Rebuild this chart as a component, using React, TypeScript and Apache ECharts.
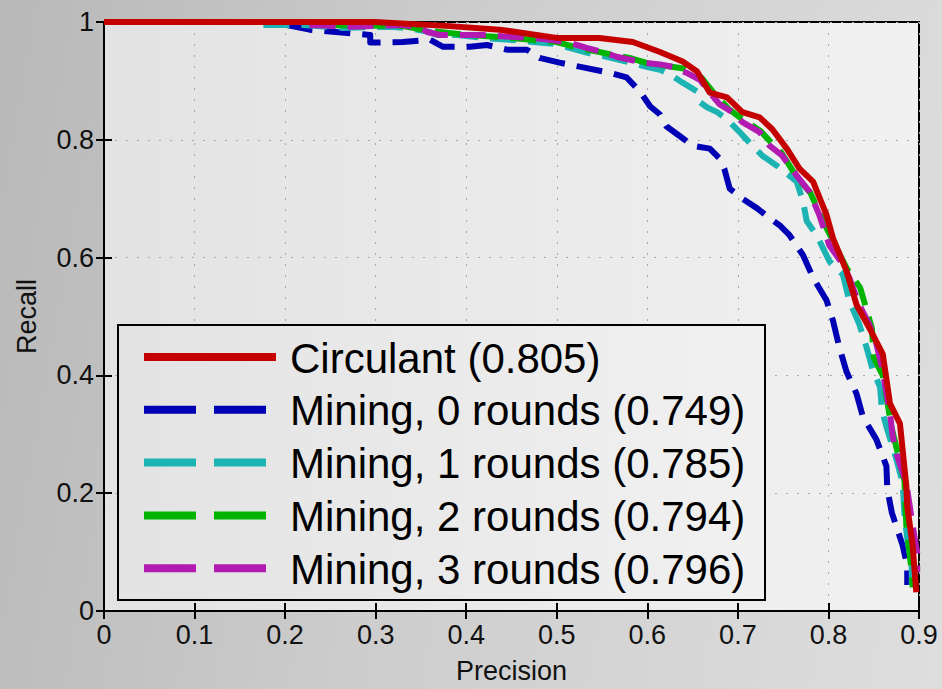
import React, { useEffect, useRef } from "react";
import * as echarts from "echarts";

const xTicks = [0, 0.1, 0.2, 0.3, 0.4, 0.5, 0.6, 0.7, 0.8, 0.9];
const yTicks = [0, 0.2, 0.4, 0.6, 0.8, 1];
const xLabels = ["0", "0.1", "0.2", "0.3", "0.4", "0.5", "0.6", "0.7", "0.8", "0.9"];
const yLabels = ["0", "0.2", "0.4", "0.6", "0.8", "1"];

const seriesNames = [
  "Circulant (0.805)",
  "Mining, 0 rounds (0.749)",
  "Mining, 1 rounds (0.785)",
  "Mining, 2 rounds (0.794)",
  "Mining, 3 rounds (0.796)",
];
const seriesColors = ["#c40000", "#0000b4", "#1cb3b3", "#00b400", "#b21ab2"];

const circulant: number[][] = [
  [0, 1], [0.299, 1], [0.382, 0.993], [0.437, 0.987], [0.5, 0.973], [0.547, 0.973],
  [0.584, 0.966], [0.614, 0.949], [0.639, 0.933], [0.655, 0.916], [0.669, 0.88],
  [0.688, 0.872], [0.705, 0.847], [0.724, 0.838], [0.738, 0.818], [0.754, 0.785],
  [0.768, 0.751], [0.783, 0.729], [0.798, 0.672], [0.805, 0.633], [0.82, 0.577],
  [0.831, 0.52], [0.845, 0.481], [0.86, 0.436], [0.868, 0.352], [0.879, 0.318],
  [0.886, 0.212], [0.887, 0.178], [0.893, 0.111], [0.897, 0.032],
];
const mining0: number[][] = [
  [0.202, 0.995], [0.227, 0.987], [0.272, 0.981], [0.294, 0.978], [0.294, 0.965],
  [0.33, 0.966], [0.36, 0.97], [0.374, 0.958], [0.404, 0.958], [0.423, 0.961],
  [0.445, 0.953], [0.467, 0.953], [0.481, 0.939], [0.503, 0.931], [0.529, 0.923],
  [0.558, 0.914], [0.577, 0.906], [0.592, 0.882], [0.603, 0.857], [0.614, 0.843],
  [0.621, 0.823], [0.636, 0.806], [0.65, 0.79], [0.669, 0.785], [0.68, 0.768],
  [0.685, 0.751], [0.691, 0.717], [0.705, 0.7], [0.721, 0.684], [0.735, 0.667],
  [0.746, 0.655], [0.757, 0.638], [0.772, 0.604], [0.783, 0.566], [0.798, 0.527],
  [0.805, 0.493], [0.812, 0.448], [0.82, 0.406], [0.831, 0.369], [0.838, 0.33],
  [0.853, 0.291], [0.864, 0.246], [0.865, 0.207], [0.87, 0.167], [0.882, 0.111],
  [0.887, 0.077], [0.887, 0.044],
];
const mining1: number[][] = [
  [0.176, 0.995], [0.22, 0.995], [0.264, 0.99], [0.316, 0.992], [0.334, 0.99],
  [0.36, 0.983], [0.368, 0.978], [0.39, 0.978], [0.418, 0.973], [0.448, 0.97],
  [0.474, 0.966], [0.496, 0.963], [0.514, 0.956], [0.533, 0.948], [0.555, 0.941],
  [0.577, 0.933], [0.599, 0.924], [0.614, 0.919], [0.625, 0.911], [0.639, 0.897],
  [0.655, 0.882], [0.658, 0.864], [0.666, 0.855], [0.677, 0.847], [0.688, 0.835],
  [0.702, 0.813], [0.716, 0.79], [0.727, 0.773], [0.743, 0.756], [0.765, 0.729],
  [0.772, 0.695], [0.776, 0.662], [0.787, 0.638], [0.794, 0.616], [0.801, 0.594],
  [0.816, 0.571], [0.823, 0.527], [0.834, 0.487], [0.842, 0.448], [0.849, 0.409],
  [0.857, 0.38], [0.859, 0.342], [0.864, 0.313], [0.875, 0.258], [0.882, 0.217],
  [0.884, 0.162], [0.887, 0.123], [0.892, 0.077], [0.892, 0.044],
];
const mining2: number[][] = [
  [0.24, 0.995], [0.33, 0.993], [0.36, 0.985], [0.4, 0.978], [0.45, 0.973],
  [0.5, 0.966], [0.524, 0.956], [0.56, 0.945], [0.583, 0.938], [0.6, 0.93],
  [0.64, 0.921], [0.66, 0.905], [0.672, 0.882], [0.69, 0.852], [0.705, 0.835],
  [0.725, 0.815], [0.74, 0.79], [0.745, 0.785], [0.765, 0.737], [0.78, 0.71],
  [0.798, 0.65], [0.82, 0.582], [0.835, 0.549], [0.848, 0.48], [0.85, 0.43],
  [0.86, 0.4], [0.87, 0.31], [0.884, 0.22], [0.886, 0.145], [0.892, 0.066],
  [0.893, 0.04],
];
const mining3: number[][] = [
  [0.227, 0.995], [0.272, 0.992], [0.33, 0.995], [0.349, 0.99], [0.357, 0.983],
  [0.371, 0.978], [0.418, 0.978], [0.448, 0.975], [0.474, 0.973], [0.492, 0.97],
  [0.514, 0.965], [0.533, 0.956], [0.551, 0.949], [0.566, 0.941], [0.581, 0.936],
  [0.595, 0.931], [0.614, 0.928], [0.628, 0.924], [0.643, 0.914], [0.658, 0.902],
  [0.669, 0.88], [0.68, 0.86], [0.694, 0.847], [0.705, 0.83], [0.724, 0.813],
  [0.735, 0.79], [0.749, 0.773], [0.765, 0.739], [0.779, 0.712], [0.79, 0.672],
  [0.801, 0.621], [0.816, 0.588], [0.823, 0.566], [0.834, 0.52], [0.845, 0.487],
  [0.853, 0.453], [0.859, 0.414], [0.868, 0.335], [0.871, 0.296], [0.876, 0.263],
  [0.886, 0.217], [0.893, 0.145], [0.898, 0.099], [0.898, 0.066],
];

const seriesData = [circulant, mining0, mining1, mining2, mining3];

const FONT = "'Liberation Sans', Arial, Helvetica, sans-serif";

export default function App() {
  const ref = useRef<HTMLDivElement>(null);
  useEffect(() => {
    if (!ref.current) return;
    const chart = echarts.init(ref.current, undefined, { renderer: "svg" });
    const gridLeft = 104, gridTop = 22, gridRight = 23, gridBottom = 73;
    const plotBg = new echarts.graphic.LinearGradient(0, 0, 1, 0, [
      { offset: 0, color: "#e3e3e3" },
      { offset: 1, color: "#f1f1f1" },
    ]);
    const commonSplit = {
      show: true,
      lineStyle: { color: "#a8a8a8", width: 1, type: [2, 9] as any },
    };
    // draw order: blue, cyan, green, magenta, red on top
    const order = [1, 2, 3, 4, 0];
    const series = order.map((i) => ({
      name: seriesNames[i],
      type: "line",
      data: seriesData[i],
      showSymbol: false,
      symbol: "none",
      smooth: false,
      clip: true,
      lineStyle: {
        color: seriesColors[i],
        width: 6,
        type: i === 0 ? "solid" : ([26, 12] as any),
        cap: "butt",
        join: "round",
      },
      z: 3,
    }));

    const legendX = 118, legendY = 325, legendW = 647, legendH = 275;
    const rowY0 = 357, rowStep = 52.8;
    const legendEls: any[] = [
      {
        type: "rect",
        shape: { x: legendX, y: legendY, width: legendW, height: legendH },
        style: { fill: plotBg, stroke: "#000", lineWidth: 2 },
        z: 10,
      },
    ];
    seriesNames.forEach((name, i) => {
      const y = rowY0 + i * rowStep;
      legendEls.push({
        type: "line",
        shape: { x1: 144, y1: y, x2: i === 0 ? 276 : 266, y2: y },
        style: {
          stroke: seriesColors[i],
          lineWidth: 8,
          lineDash: i === 0 ? null : [52, 18],
          lineCap: "butt",
        },
        z: 11,
      });
      legendEls.push({
        type: "text",
        x: 290,
        y: y + 1,
        style: {
          text: name,
          fontSize: 42,
          fontFamily: FONT,
          fill: "#000",
          verticalAlign: "middle",
          align: "left",
        },
        z: 11,
      });
    });

    chart.setOption({
      animation: false,
      backgroundColor: "transparent",
      grid: {
        left: gridLeft,
        top: gridTop,
        right: gridRight,
        bottom: gridBottom,
        show: true,
        backgroundColor: plotBg,
        borderColor: "#000",
        borderWidth: 2,
        containLabel: false,
      },
      xAxis: [
        {
          type: "value",
          min: 0,
          max: 0.9,
          interval: 0.1,
          name: "Precision",
          nameLocation: "middle",
          nameGap: 46,
          nameTextStyle: { fontSize: 27, fontFamily: FONT, color: "#111" },
          axisLine: { show: true, lineStyle: { color: "#000", width: 2 } },
          axisTick: { show: true, inside: true, length: 8, lineStyle: { color: "#000", width: 2 } },
          axisLabel: {
            fontSize: 27,
            fontFamily: FONT,
            color: "#111",
            margin: 10,
            formatter: (v: number) => {
              const idx = xTicks.findIndex((t) => Math.abs(t - v) < 1e-6);
              return idx >= 0 ? xLabels[idx] : "";
            },
          },
          splitLine: commonSplit,
        },
        {
          type: "value",
          position: "top",
          min: 0,
          max: 0.9,
          interval: 0.1,
          axisLine: { show: true, lineStyle: { color: "#000", width: 2 } },
          axisTick: { show: true, inside: true, length: 8, lineStyle: { color: "#000", width: 2 } },
          axisLabel: { show: false },
          splitLine: { show: false },
        },
      ],
      yAxis: [
        {
          type: "value",
          min: 0,
          max: 1,
          interval: 0.2,
          name: "Recall",
          nameLocation: "middle",
          nameGap: 64,
          nameRotate: 90,
          nameTextStyle: { fontSize: 27, fontFamily: FONT, color: "#111" },
          axisLine: { show: true, lineStyle: { color: "#000", width: 2 } },
          axisTick: { show: true, inside: true, length: 8, lineStyle: { color: "#000", width: 2 } },
          axisLabel: {
            fontSize: 27,
            fontFamily: FONT,
            color: "#111",
            margin: 10,
            formatter: (v: number) => {
              const idx = yTicks.findIndex((t) => Math.abs(t - v) < 1e-6);
              return idx >= 0 ? yLabels[idx] : "";
            },
          },
          splitLine: commonSplit,
        },
        {
          type: "value",
          position: "right",
          min: 0,
          max: 1,
          interval: 0.2,
          axisLine: { show: true, lineStyle: { color: "#000", width: 2 } },
          axisTick: { show: true, inside: true, length: 8, lineStyle: { color: "#000", width: 2 } },
          axisLabel: { show: false },
          splitLine: { show: false },
        },
      ],
      series,
      graphic: legendEls,
    } as any);
    return () => chart.dispose();
  }, []);

  return (
    <div
      style={{
        position: "fixed",
        left: 0,
        top: 0,
        width: 942,
        height: 689,
        background: "linear-gradient(100deg, #b8b8b8 0%, #cdcdcd 45%, #dedede 100%)",
      }}
    >
      <div ref={ref} style={{ width: 942, height: 689 }} />
    </div>
  );
}
